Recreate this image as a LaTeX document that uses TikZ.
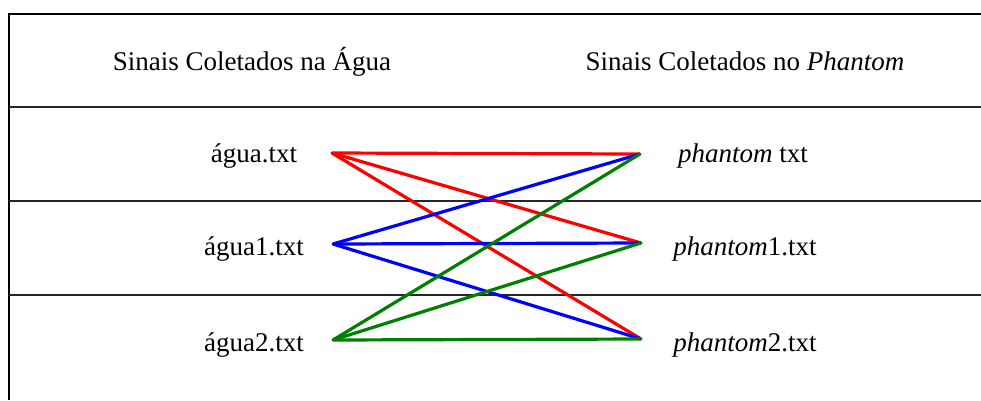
\documentclass[tikz,border=0pt]{standalone}
\usepackage{fontspec}
\setmainfont{LiberationSerif}[Extension=.ttf, UprightFont=*-Regular, ItalicFont=*-Italic, BoldFont=*-Bold, BoldItalicFont=*-BoldItalic]
\tikzset{
  lbl/.style={font=\fontsize{27}{30}\selectfont, inner sep=0pt, anchor=base},
  pt/.style={inner sep=0pt, minimum size=0pt},
  rowline/.style={line width=1.6pt, draw=black!85},
  frame/.style={line width=2.5pt, draw=black},
  wire/.style={line width=3.2pt, line cap=round, line join=round},
}
\definecolor{wred}{RGB}{255,0,0}
\definecolor{wblue}{RGB}{0,0,255}
\definecolor{wgreen}{RGB}{0,128,0}
\begin{document}
\begin{tikzpicture}[x=1pt,y=-1pt]
\useasboundingbox (0,0) rectangle (981,400);
% frame
\coordinate (tl) at (9,14);
\coordinate (tr) at (981,14);
\coordinate (bl) at (9,400);
\draw[frame] (tr) -- (tl) -- (bl);
% row separators
\coordinate (s1l) at (9,107);  \coordinate (s1r) at (981,107);
\coordinate (s2l) at (9,201);  \coordinate (s2r) at (981,201);
\coordinate (s3l) at (9,295);  \coordinate (s3r) at (981,295);
\draw[rowline] (s1l) -- (s1r);
\draw[rowline] (s2l) -- (s2r);
\draw[rowline] (s3l) -- (s3r);
% headers
\node[lbl] (h1) at (252,70) {Sinais Coletados na Água};
\node[lbl] (h2) at (745,70) {Sinais Coletados no \textit{Phantom}};
% labels
\node[lbl] (a0) at (254,162) {água.txt};
\node[lbl] (a1) at (254,255) {água1.txt};
\node[lbl] (a2) at (254,351) {água2.txt};
\node[lbl] (p0) at (743,162) {\textit{phantom} txt};
\node[lbl] (p1) at (745,255) {\textit{phantom}1.txt};
\node[lbl] (p2) at (745,351) {\textit{phantom}2.txt};
% endpoints
\node[pt] (L0) at (332,153) {};
\node[pt] (L1) at (333,244) {};
\node[pt] (L2) at (333,340) {};
\node[pt] (R0) at (640,154) {};
\node[pt] (R1) at (641,243) {};
\node[pt] (R2) at (641,339) {};
% wires
\draw[wire, wred] (L0) -- (R0);
\draw[wire, wred] (L0) -- (R1);
\draw[wire, wred] (L0) -- (R2);
\draw[wire, wblue] (L1) -- (R0);
\draw[wire, wblue] (L1) -- (R1);
\draw[wire, wblue] (L1) -- (R2);
\draw[wire, wgreen] (L2) -- (R0);
\draw[wire, wgreen] (L2) -- (R1);
\draw[wire, wgreen] (L2) -- (R2);
\end{tikzpicture}
\end{document}
